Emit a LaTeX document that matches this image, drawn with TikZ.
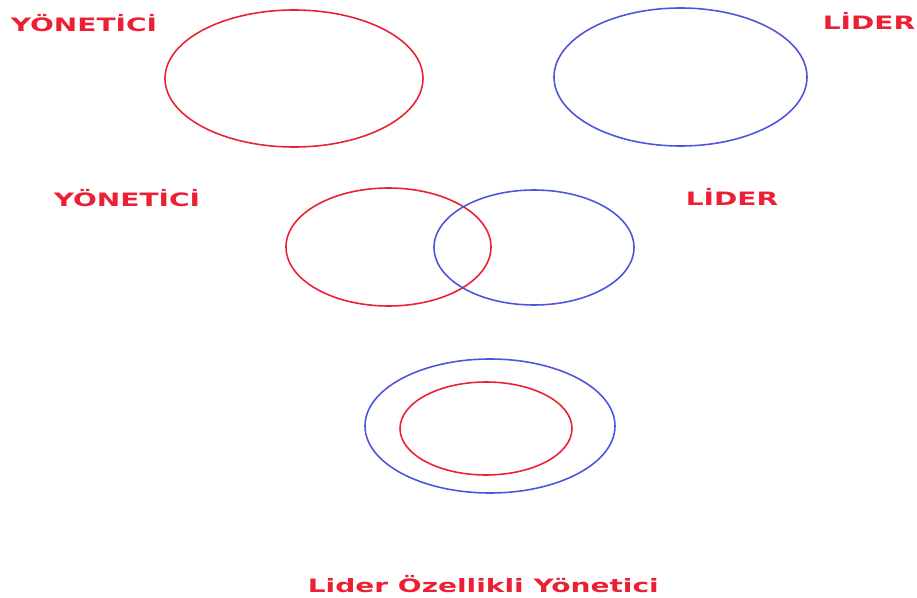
\documentclass[tikz,border=0pt]{standalone}
\usepackage{fontspec}
\newfontfamily\labelfont[FakeStretch=1.52]{DejaVu Sans}
\definecolor{cred}{RGB}{236,32,52}
\definecolor{cblue}{RGB}{78,84,222}
\tikzset{venn/.style={x=0.02cm,y=-0.02cm,line width=0.9pt},
  lbl/.style={text=cred,inner sep=0pt,anchor=base west,
    font=\labelfont\bfseries\fontsize{10.5}{12}\selectfont}}

\begin{document}
\begin{tikzpicture}[venn]
    \useasboundingbox (0,0) rectangle (917,598);
    % apart
    \draw[cred]  (294,78.5) ellipse (129 and 68.5);
    \draw[cblue] (680.5,77) ellipse (126.5 and 69);
    \node[lbl] (yon1) at (10,32) {YÖNETİCİ};
    \node[lbl] (lid1) at (822,30) {LİDER};
    % overlapping
    \draw[cred]  (388.5,247) ellipse (102.5 and 59);
    \draw[cblue] (534,247.5) ellipse (100 and 57.5);
    \node[lbl] (yon2) at (53,207) {YÖNETİCİ};
    \node[lbl] (lid2) at (685,206) {LİDER};
    % nested
    \draw[cblue] (490,426) ellipse (125 and 67);
    \draw[cred]  (486,428.5) ellipse (86 and 46.5);
    \node[lbl] (both) at (307,592) {Lider Özellikli Yönetici};
\end{tikzpicture}
\end{document}
